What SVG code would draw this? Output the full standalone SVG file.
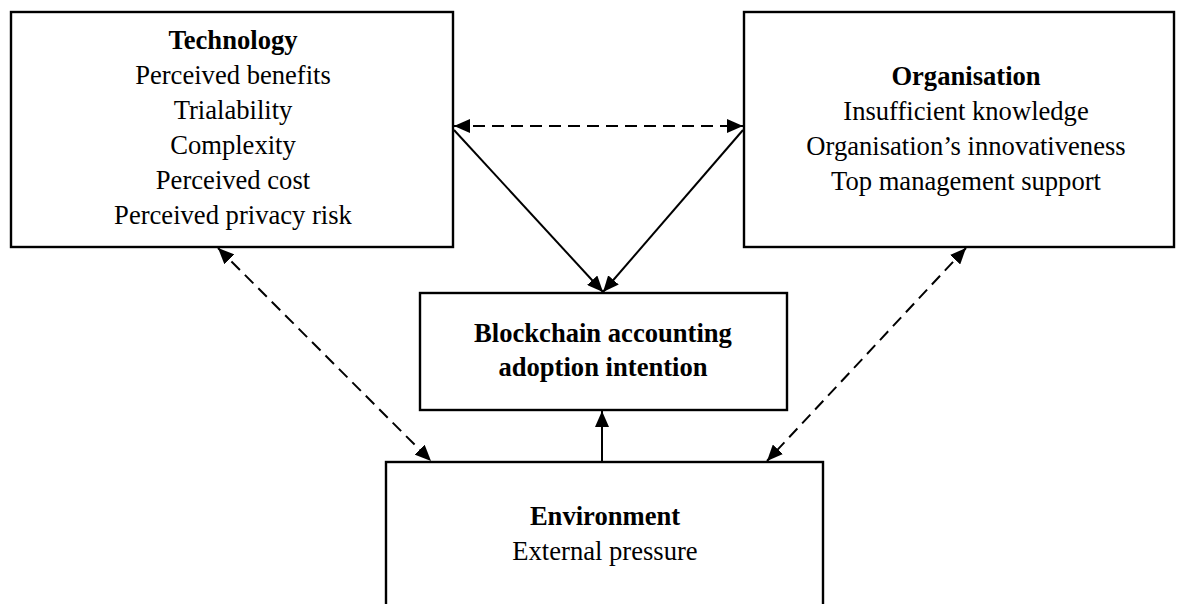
<svg xmlns="http://www.w3.org/2000/svg" width="1177" height="604" viewBox="0 0 1177 604">
  <style>
    .box { fill: #fff; stroke: #000; stroke-width: 2.4; }
    .t { font-family: "Liberation Serif", "Times New Roman", serif; font-size: 26.6px; text-anchor: middle; fill: #000; }
    .b { font-weight: bold; }
    .conn { stroke: #000; stroke-width: 2; fill: none; }
    .dash { stroke-dasharray: 12 7; }
  </style>
  <defs>
    <marker id="ah" viewBox="0 0 16 14" refX="16" refY="7" markerWidth="16" markerHeight="14" markerUnits="userSpaceOnUse" orient="auto-start-reverse">
      <path d="M0,0 L16,7 L0,14 z" fill="#000"/>
    </marker>
  </defs>

  <g id="technology">
    <rect class="box" x="11" y="12" width="442" height="235"/>
    <text class="t b" x="233" y="49">Technology</text>
    <text class="t" x="233" y="84">Perceived benefits</text>
    <text class="t" x="233" y="119">Trialability</text>
    <text class="t" x="233" y="154">Complexity</text>
    <text class="t" x="233" y="189">Perceived cost</text>
    <text class="t" x="233" y="224">Perceived privacy risk</text>
  </g>

  <g id="organisation">
    <rect class="box" x="744" y="12" width="430" height="235"/>
    <text class="t b" x="966" y="85">Organisation</text>
    <text class="t" x="966" y="120">Insufficient knowledge</text>
    <text class="t" x="966" y="155">Organisation’s innovativeness</text>
    <text class="t" x="966" y="190">Top management support</text>
  </g>

  <g id="blockchain">
    <rect class="box" x="420" y="293" width="367" height="117"/>
    <text class="t b" x="603" y="342">Blockchain accounting</text>
    <text class="t b" x="603" y="376">adoption intention</text>
  </g>

  <g id="environment">
    <rect class="box" x="386" y="462" width="437" height="160"/>
    <text class="t b" x="605" y="525">Environment</text>
    <text class="t" x="605" y="560">External pressure</text>
  </g>

  <g id="connectors">
    <line class="conn dash" x1="454" y1="126" x2="743" y2="126" marker-start="url(#ah)" marker-end="url(#ah)"/>
    <line class="conn" x1="454" y1="130" x2="603" y2="292" marker-end="url(#ah)"/>
    <line class="conn" x1="743" y1="130" x2="603" y2="292" marker-end="url(#ah)"/>
    <line class="conn" x1="602" y1="461" x2="602" y2="411" marker-end="url(#ah)"/>
    <line class="conn dash" x1="218" y1="248" x2="431" y2="461" marker-start="url(#ah)" marker-end="url(#ah)"/>
    <line class="conn dash" x1="966" y1="248" x2="767" y2="461" marker-start="url(#ah)" marker-end="url(#ah)"/>
  </g>
</svg>
